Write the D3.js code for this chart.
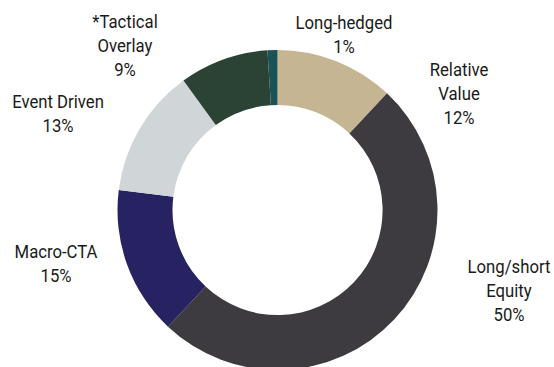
<!DOCTYPE html>
<html>
<head>
<meta charset="utf-8">
<script src="https://cdn.jsdelivr.net/npm/d3@7"></script>
<style>
  html, body { margin: 0; padding: 0; background: #fff; }
  svg { display: block; }
</style>
</head>
<body>
<div class="chart"></div>
<script>
// strategy allocation, clockwise from 12 o'clock
const categories = ["Relative Value", "Long/short Equity", "Macro-CTA", "Event Driven", "*Tactical Overlay", "Long-hedged"];
const values = [12, 50, 15, 13, 9, 1];
const colors = ["#c5b592", "#3d3b40", "#272262", "#d0d5d7", "#2a4335", "#1b5257"];
// label lines as printed
const labelLines = [
  ["Relative", "Value", "12%"],
  ["Long/short", "Equity", "50%"],
  ["Macro-CTA", "15%"],
  ["Event Driven", "13%"],
  ["*Tactical", "Overlay", "9%"],
  ["Long-hedged", "1%"]
];

const width = 554;
const height = 367;
const cx = 277.5, cy = 210;
const outerR = 160, innerR = 105;

// label anchor (centre x, first baseline y)
const labelPos = [
  [459, 76],
  [509, 273],
  [56, 258],
  [58, 108],
  [125, 28],
  [344, 29]
];

const svg = d3.select(".chart")
  .append("svg")
  .attr("width", width)
  .attr("height", height);

const pie = d3.pie().sort(null).value((d) => d);
const arc = d3.arc().innerRadius(innerR).outerRadius(outerR);

const g = svg.append("g").attr("transform", `translate(${cx},${cy})`);

g.selectAll("path")
  .data(pie(values))
  .enter()
  .append("path")
  .attr("d", arc)
  .attr("fill", (d, i) => colors[i]);

// labels - Roboto squeezed a bit to look like a condensed face
const lineH = 24;
const squeeze = 0.88;
const labels = svg.append("g")
  .style("font-family", "Roboto, 'Liberation Sans', sans-serif")
  .style("font-size", "19px")
  .attr("fill", "#1a1a1a")
  .attr("text-anchor", "middle");

labelLines.forEach((lines, i) => {
  const t = labels.append("text")
    .attr("transform", `translate(${labelPos[i][0]},${labelPos[i][1]}) scale(${squeeze},1)`);
  lines.forEach((s, j) => {
    t.append("tspan")
      .attr("x", 0)
      .attr("dy", j === 0 ? 0 : lineH)
      .text(s);
  });
});
</script>
</body>
</html>
